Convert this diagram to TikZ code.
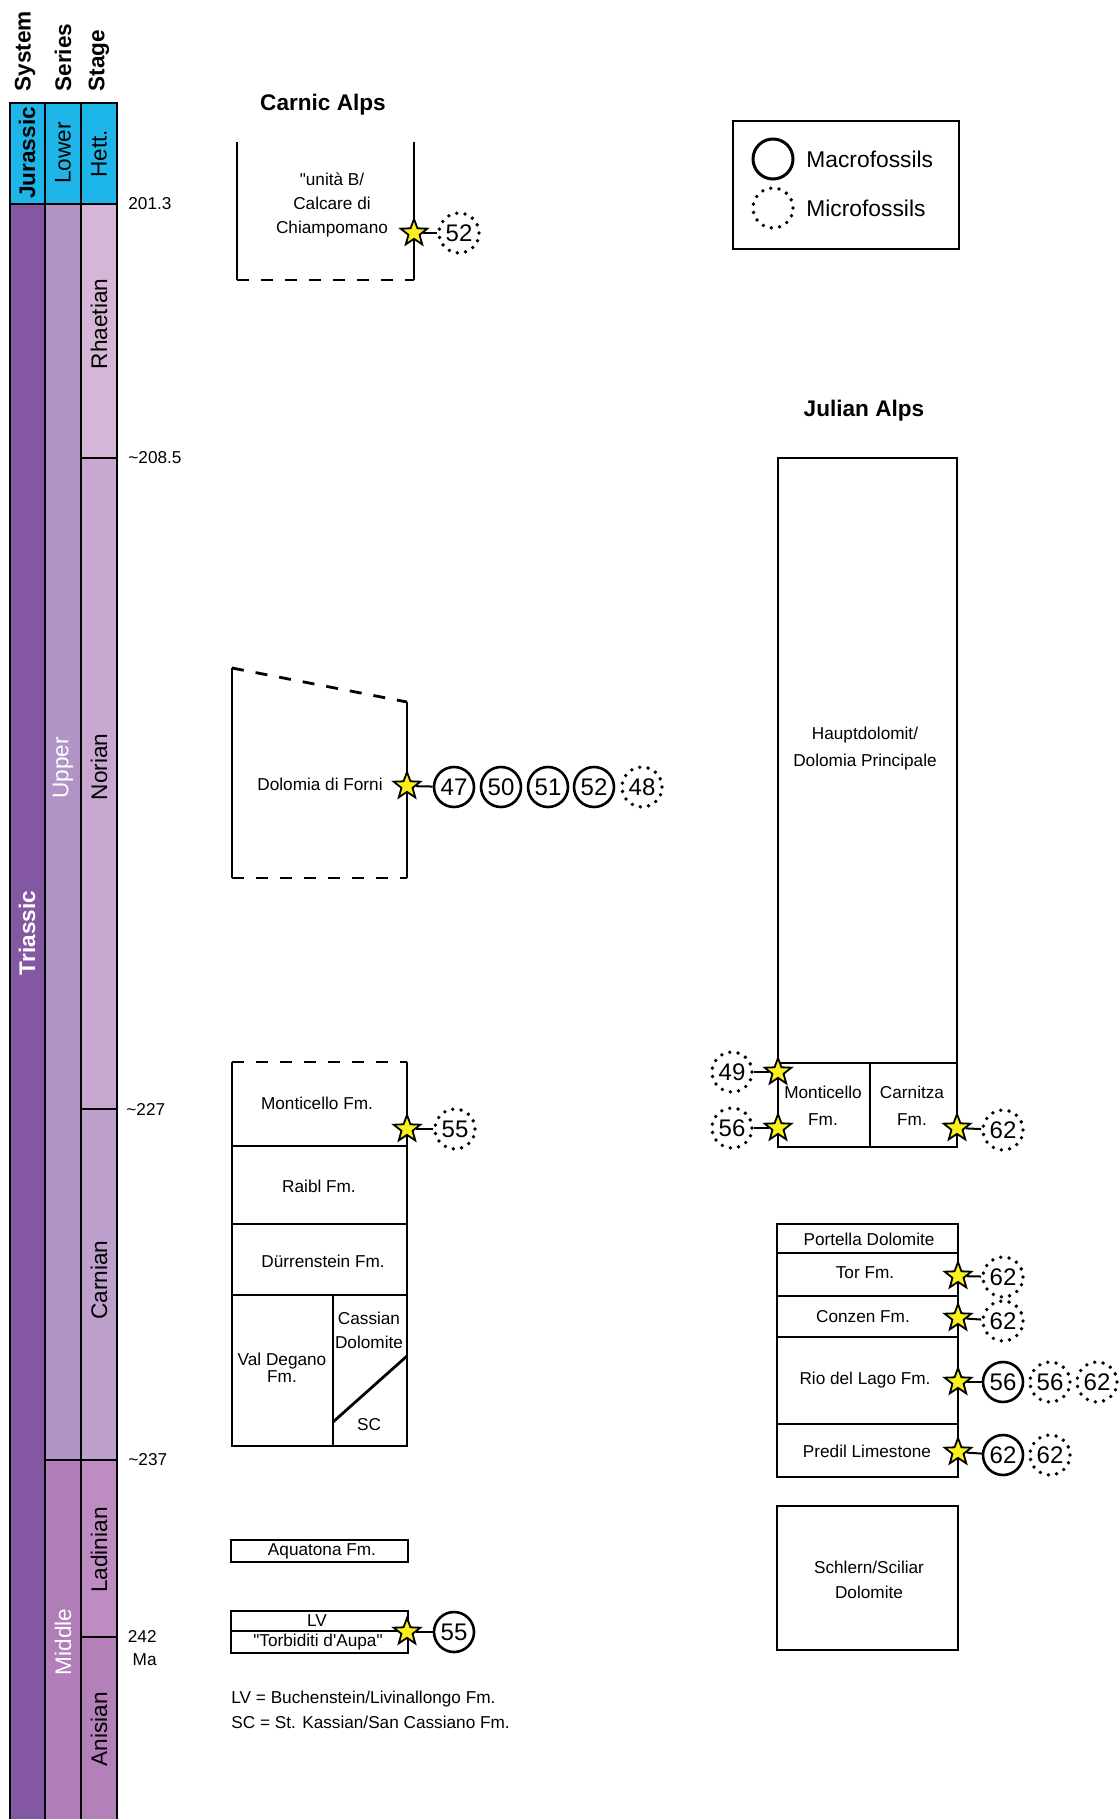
\documentclass[tikz,border=0pt]{standalone}
\usepackage{fontspec}
\setmainfont{Liberation Sans}
\usepackage{xcolor}
\usetikzlibrary{shapes.geometric}

\definecolor{colJur}{RGB}{30,182,232}
\definecolor{colTri}{RGB}{132,87,162}
\definecolor{colUpp}{RGB}{176,148,198}
\definecolor{colMid}{RGB}{177,126,186}
\definecolor{colRha}{RGB}{213,182,214}
\definecolor{colNor}{RGB}{200,168,208}
\definecolor{colCar}{RGB}{189,160,204}
\definecolor{colLad}{RGB}{190,140,194}
\definecolor{colAni}{RGB}{180,128,186}
\definecolor{starYellow}{RGB}{250,240,30}

\begin{document}
\begin{tikzpicture}[x=0.5pt, y=-0.5pt,
  unit/.style={line width=1.4pt},
  cut/.style={line width=1.4pt, dash pattern=on 6pt off 6pt},
  colline/.style={line width=0.75pt},
  lbl/.style={font=\fontsize{8.6}{12}\selectfont, align=center, inner sep=0},
  age/.style={font=\fontsize{8.6}{11.5}\selectfont, anchor=west, inner sep=0},
  colname/.style={font=\fontsize{11.3}{13}\selectfont, rotate=90, inner sep=0},
  boldname/.style={colname, font=\bfseries\fontsize{11.3}{13}\selectfont},
  title/.style={font=\bfseries\fontsize{11.3}{13}\selectfont, inner sep=0},
  macro/.style={circle, draw, line width=1.3pt, minimum size=20pt, inner sep=0, font=\fontsize{12}{12}\selectfont},
  micro/.style={macro, line width=1.9pt, line cap=round, dash pattern=on 0pt off 4.2pt},
  fstar/.style={star, star points=5, star point ratio=2.4, minimum size=14pt, inner sep=0, draw, line width=0.9pt, fill=starYellow},
  link/.style={line width=1pt}]

\useasboundingbox (0,0) rectangle (1119,1819);

% time scale
\fill[colJur] (10,103) rectangle (117,204);
\fill[colTri] (10,204) rectangle (45,1819);
\fill[colUpp] (45,204) rectangle (81,1460);
\fill[colMid] (45,1460) rectangle (81,1819);
\fill[colRha] (81,204) rectangle (117,458);
\fill[colNor] (81,458) rectangle (117,1109);
\fill[colCar] (81,1109) rectangle (117,1460);
\fill[colLad] (81,1460) rectangle (117,1637);
\fill[colAni] (81,1637) rectangle (117,1819);

\draw[colline] (10,1819) -- (10,103) -- (117,103) -- (117,1819);
\draw[colline] (45,103) -- (45,1819);
\draw[colline] (81,103) -- (81,1819);
\draw[colline] (10,204) -- (117,204);
\draw[colline] (45,1460) -- (117,1460);
\foreach \y in {458,1109,1637}
  \draw[colline] (81,\y) -- (117,\y);

\node[boldname, anchor=west] (hsys) at (25,92) {System};
\node[boldname, anchor=west] (hser) at (63,92) {Series};
\node[boldname, anchor=west] (hsta) at (99,92) {Stage};

\node[boldname] (jur) at (27,153) {Jurassic};
\node[colname] (low) at (63,153) {Lower};
\node[colname] (het) at (99,154) {Hett.};
\node[boldname, text=white] (tri) at (27,933) {Triassic};
\node[colname, text=white] (upp) at (63,768) {Upper};
\node[colname, text=white] (mid) at (63,1642) {Middle};
\node[colname] (rha) at (99,324) {Rhaetian};
\node[colname] (nor) at (99,767) {Norian};
\node[colname] (car) at (99,1280) {Carnian};
\node[colname] (lad) at (99,1550) {Ladinian};
\node[colname] (ani) at (99,1729) {Anisian};

\node[age] (a1) at (128,204) {201.3};
\node[age] (a2) at (128,458) {\textasciitilde208.5};
\node[age] (a3) at (126,1109) {\textasciitilde227};
\node[age] (a4) at (128,1460) {\textasciitilde237};
\node[age, anchor=east, align=right] (a5) at (157,1648) {242\\Ma};

% legend
\draw[line width=0.6pt] (733,121) rectangle (959,249);
\node[macro, line width=1.5pt] (kmac) at (773,159) {};
\node[micro] (kmic) at (773,208) {};
\node[font=\fontsize{11.4}{13}\selectfont, anchor=west, inner sep=0] (tmac) at (806,159) {Macrofossils};
\node[font=\fontsize{11.4}{13}\selectfont, anchor=west, inner sep=0] (tmic) at (806,208) {Microfossils};

% Carnic Alps
\node[title] (carnic) at (323,105) {Carnic Alps};

\draw[unit] (237,142) -- (237,280);
\draw[unit] (414,142) -- (414,280);
\draw[cut] (237,280) -- (414,280);
\node[lbl] (unitaB) at (332,205) {\textquotedbl unità B/\\Calcare di\\Chiampomano};
\node[fstar] (s1) at (414,233) {};
\node[micro] (m1) at (459,233) {52};
\draw[link] (s1) -- (m1);

\draw[unit] (232,668) -- (232,878);
\draw[unit] (407,702) -- (407,878);
\draw[cut] (232,668) -- (407,702);
\draw[cut] (232,878) -- (407,878);
\node[lbl] (forni) at (320,784) {Dolomia di Forni};
\node[fstar] (s2) at (407,786) {};
\node[macro] (m2a) at (454,787) {47};
\node[macro] (m2b) at (501,787) {50};
\node[macro] (m2c) at (548,787) {51};
\node[macro] (m2d) at (594,787) {52};
\node[micro] (m2e) at (642,787) {48};
\draw[link] (s2) -- (m2a);

\draw[unit] (232,1062) -- (232,1446) -- (407,1446) -- (407,1062);
\draw[cut] (232,1062) -- (407,1062);
\draw[unit] (232,1146) -- (407,1146);
\draw[unit] (232,1224) -- (407,1224);
\draw[unit] (232,1295) -- (407,1295);
\draw[unit] (333,1295) -- (333,1446);
\draw[unit] (333,1422) -- (407,1356);
\node[lbl] (montC) at (317,1103) {Monticello Fm.};
\node[lbl] (raibl) at (319,1186) {Raibl Fm.};
\node[lbl] (duerr) at (323,1261) {Dürrenstein Fm.};
\node[lbl] (cass) at (369,1330) {Cassian\\Dolomite};
\node[lbl, font=\fontsize{8.6}{8.6}\selectfont] (valdeg) at (282,1368) {Val Degano\\Fm.};
\node[lbl] (sc) at (369,1425) {SC};
\node[fstar] (s3) at (407,1129) {};
\node[micro] (m3) at (455,1129) {55};
\draw[link] (s3) -- (m3);

\draw[unit] (231,1540) rectangle (408,1562);
\node[lbl] (aquat) at (322,1551) {Aquatona Fm.};

\draw[unit] (231,1611) rectangle (408,1653);
\draw[unit] (231,1631) -- (408,1631);
\node[lbl] (lv) at (317,1621) {LV};
\node[lbl] (torb) at (318,1642) {\textquotedbl Torbiditi d\textquotesingle Aupa\textquotedbl};
\node[fstar] (s4) at (407,1632) {};
\node[macro] (m4) at (454,1632) {55};
\draw[link] (s4) -- (m4);

\node[age] (note1) at (231,1699) {LV = Buchenstein/Livinallongo Fm.};
\node[age] (note2) at (231,1722) {SC = St. Kassian/San Cassiano Fm.};

% Julian Alps
\node[title] (julian) at (864,411) {Julian Alps};

\draw[unit] (778,458) rectangle (957,1147);
\draw[unit] (778,1063) -- (957,1063);
\draw[unit] (870,1063) -- (870,1147);
\node[lbl, font=\fontsize{8.6}{13.5}\selectfont] (haupt) at (865,749) {Hauptdolomit/\\Dolomia Principale};
\node[lbl, font=\fontsize{8.6}{13.5}\selectfont] (montJ) at (823,1106) {Monticello\\Fm.};
\node[lbl, font=\fontsize{8.6}{13.5}\selectfont] (carn) at (912,1106) {Carnitza\\Fm.};
\node[fstar] (s5) at (778,1072) {};
\node[micro] (m5) at (732,1072) {49};
\draw[link] (s5) -- (m5);
\node[fstar] (s6) at (778,1128) {};
\node[micro] (m6) at (732,1128) {56};
\draw[link] (s6) -- (m6);
\node[fstar] (s7) at (957,1128) {};
\node[micro] (m7) at (1003,1130) {62};
\draw[link] (s7) -- (m7);

\draw[unit] (777,1224) rectangle (958,1477);
\foreach \y in {1253,1296,1337,1424}
  \draw[unit] (777,\y) -- (958,\y);
\node[lbl] (port) at (869,1239) {Portella Dolomite};
\node[lbl] (tor) at (865,1273) {Tor Fm.};
\node[lbl] (conz) at (863,1317) {Conzen Fm.};
\node[lbl] (rio) at (865,1380) {Rio del Lago Fm.};
\node[lbl] (pred) at (867,1451) {Predil Limestone};

\node[fstar] (s8) at (958,1276) {};
\node[micro] (m8) at (1003,1277) {62};
\draw[link] (s8) -- (m8);
\node[fstar] (s9) at (958,1318) {};
\node[micro] (m9) at (1003,1321) {62};
\draw[link] (s9) -- (m9);
\node[fstar] (s10) at (958,1382) {};
\node[macro] (m10a) at (1003,1382) {56};
\node[micro] (m10b) at (1050,1382) {56};
\node[micro] (m10c) at (1097,1382) {62};
\draw[link] (s10) -- (m10a);
\node[fstar] (s11) at (958,1452) {};
\node[macro] (m11a) at (1003,1455) {62};
\node[micro] (m11b) at (1050,1455) {62};
\draw[link] (s11) -- (m11a);

\draw[unit] (777,1506) rectangle (958,1650);
\node[lbl, font=\fontsize{8.6}{12.5}\selectfont] (schlern) at (869,1580) {Schlern/Sciliar\\Dolomite};

\end{tikzpicture}
\end{document}
